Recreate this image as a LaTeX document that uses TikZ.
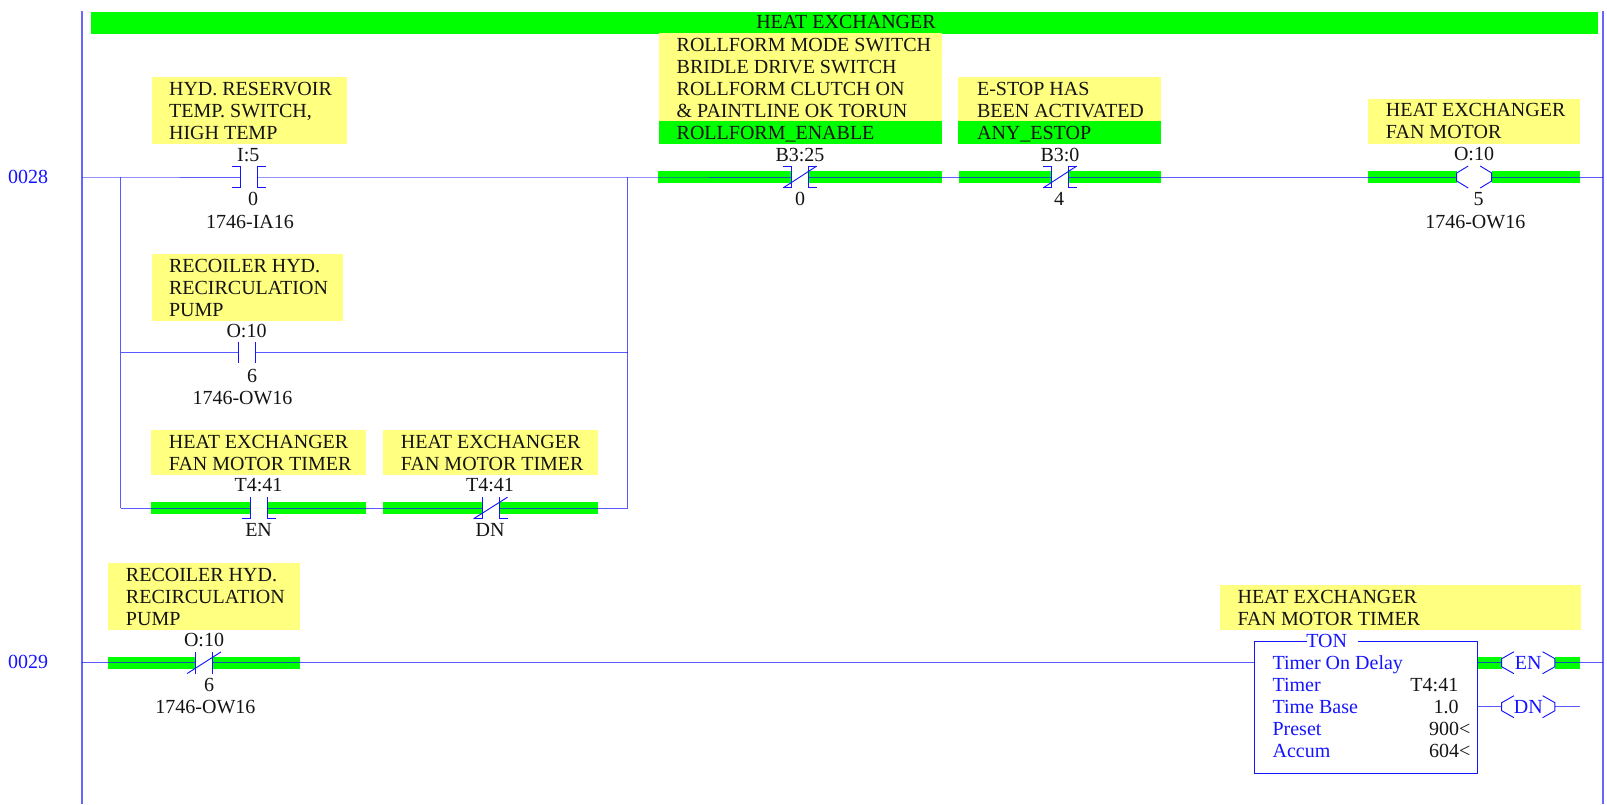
\documentclass[tikz,border=0pt]{standalone}
\usepackage{fontspec}
\setmainfont{Liberation Serif}
\definecolor{wireblue}{RGB}{20,20,255}
\definecolor{notey}{RGB}{255,255,128}
\definecolor{hl}{RGB}{0,255,0}
\definecolor{tagc}{RGB}{20,20,20}
\newcommand{\tfont}{\fontsize{15}{16.5}\selectfont}
\tikzset{
  wire/.style={draw=wireblue,line width=0.75pt,draw opacity=0.7},
  rail/.style={draw=wireblue,line width=1pt,draw opacity=0.65},
  sym/.style={draw=wireblue,line width=0.7pt},
  fillnote/.style={fill=notey,draw=none,inner sep=0pt,anchor=north west},
  fillhl/.style={fill=hl,draw=none,inner sep=0pt,anchor=north west},
  notetext/.style={inner sep=0pt,anchor=north west,align=left,font=\tfont,text=tagc},
  tag/.style={inner sep=0pt,anchor=base,font=\tfont,text=tagc},
  bluetext/.style={inner sep=0pt,anchor=base west,font=\tfont,text=wireblue},
  valtext/.style={inner sep=0pt,anchor=base east,font=\tfont,text=tagc},
  rungno/.style={inner sep=0pt,anchor=base,font=\tfont,text=wireblue},
}
\newcommand{\NoteBox}[8]{%
  \path (#2,#3) node[fillnote,minimum width={(#4-#2)*0.75pt},minimum height={(#5-#3)*0.75pt}] (#1) {};
  \path (#6,#7-6.8) node[notetext] (#1t) {\rule{0pt}{10pt}#8};
}
\newcommand{\HiBar}[4]{%
  \path (#2,#4-6) node[fillhl,minimum width={(#3-#2)*0.75pt},minimum height=9pt] (#1) {};
}
\newcommand{\Tag}[4]{\path (#2,#3+6.5) node[tag] (#1) {#4};}
\newcommand{\Bars}[4]{%
  \coordinate (#1-l) at (#2,#4);
  \coordinate (#1-r) at (#3,#4);
  \draw[sym] (#2,#4-10.8) -- (#2,#4+10.8);
  \draw[sym] (#3,#4-10.8) -- (#3,#4+10.8);
}
\newcommand{\BottomTicks}[3]{%
  \draw[sym] (#1-8.5,#3+10.8) -- (#1,#3+10.8);
  \draw[sym] (#2+8.5,#3+10.8) -- (#2,#3+10.8);
}
\newcommand{\TopTicks}[3]{%
  \draw[sym] (#1-8.5,#3-10.8) -- (#1,#3-10.8);
  \draw[sym] (#2+8.5,#3-10.8) -- (#2,#3-10.8);
}
\newcommand{\Diagonal}[3]{\draw[sym] (#1-8.5,#3+10.8) -- (#2+8.5,#3-10.8);}
\newcommand{\Coil}[5]{%
  \coordinate (#1-l) at (#2-#4,#5);
  \coordinate (#1-r) at (#2+#4,#5);
  \draw[sym] (#2-#3,#5-11) -- (#2-#4,#5-4) -- (#2-#4,#5+4) -- (#2-#3,#5+11);
  \draw[sym] (#2+#3,#5-11) -- (#2+#4,#5-4) -- (#2+#4,#5+4) -- (#2+#3,#5+11);
}
\begin{document}
\begin{tikzpicture}[x=0.75pt,y=-0.75pt]
\useasboundingbox (0,0) rectangle (1607,804);
% header
\path (91,11.5) node[fillhl,minimum width={1507*0.75pt},minimum height={22.5*0.75pt}] (hdr) {};
\Tag{hdrt}{846}{22.3}{HEAT EXCHANGER}
% highlight bars
\HiBar{b1a}{658}{791.8}{177}
\HiBar{b1b}{808}{942}{177}
\HiBar{b2a}{959}{1051.8}{177}
\HiBar{b2b}{1068}{1161}{177}
\HiBar{b3a}{1368}{1456.7}{177}
\HiBar{b3b}{1491.7}{1580}{177}
\HiBar{b4a}{151}{250}{508}
\HiBar{b4b}{267}{366}{508}
\HiBar{b5a}{383}{482}{508}
\HiBar{b5b}{499}{597.5}{508}
\HiBar{b6a}{108}{195.7}{663}
\HiBar{b6b}{212.5}{300}{663}
\HiBar{b7}{1477}{1501.7}{663}
\HiBar{b8}{1555}{1580}{663}
% rails
\coordinate (railLtop) at (82,11);
\coordinate (railLbot) at (82,804);
\coordinate (railRtop) at (1603,11);
\coordinate (railRbot) at (1603,804);
\draw[rail] (railLtop) -- (railLbot);
\draw[rail] (railRtop) -- (railRbot);
% notes
\NoteBox{n1}{151.5}{77}{346.5}{143.7}{168.8}{88.7}{HYD. RESERVOIR\\TEMP. SWITCH,\\HIGH TEMP}
\NoteBox{n2}{151.5}{254}{343}{321}{168.8}{265.5}{RECOILER HYD.\\RECIRCULATION\\PUMP}
\NoteBox{n3}{151}{430}{366}{475}{168.6}{441.5}{HEAT EXCHANGER\\FAN MOTOR TIMER}
\NoteBox{n4}{383}{430}{597.5}{475}{400.7}{441.5}{HEAT EXCHANGER\\FAN MOTOR TIMER}
\NoteBox{n5}{108}{563}{300}{629.7}{125.7}{574.3}{RECOILER HYD.\\RECIRCULATION\\PUMP}
\path (659,121) node[fillhl,minimum width={283*0.75pt},minimum height={23*0.75pt}] (n6g) {};
\path (958,121) node[fillhl,minimum width={203*0.75pt},minimum height={23*0.75pt}] (n7g) {};
\NoteBox{n6}{659}{33}{942}{121}{676.4}{44.3}{ROLLFORM MODE SWITCH\\BRIDLE DRIVE SWITCH\\ROLLFORM CLUTCH ON\\\& PAINTLINE OK TORUN\\ROLLFORM\_ENABLE}
\NoteBox{n7}{958}{77}{1161}{121}{976.8}{88.7}{E-STOP HAS\\BEEN ACTIVATED\\ANY\_ESTOP}
\NoteBox{n8}{1368}{99}{1580}{143.7}{1385.7}{110}{HEAT EXCHANGER\\FAN MOTOR}
\NoteBox{n9}{1220}{585}{1581}{629.7}{1237.3}{596.3}{HEAT EXCHANGER\\FAN MOTOR TIMER}
% symbols
\Bars{c1}{240.3}{257}{177}
\TopTicks{240.3}{257}{177}\BottomTicks{240.3}{257}{177}
\Bars{c2}{238.7}{255.7}{352.6}
\Bars{c3}{250}{267}{508}
\BottomTicks{250}{267}{508}
\Bars{c4}{482}{499}{508}
\BottomTicks{482}{499}{508}\Diagonal{482}{499}{508}
\Bars{c5}{791.8}{808}{177}
\TopTicks{791.8}{808}{177}\BottomTicks{791.8}{808}{177}\Diagonal{791.8}{808}{177}
\Bars{c6}{1051.8}{1068}{177}
\TopTicks{1051.8}{1068}{177}\BottomTicks{1051.8}{1068}{177}\Diagonal{1051.8}{1068}{177}
\Coil{c7}{1474.2}{6}{17.5}{177}
\Bars{c8}{195.7}{212.5}{662.7}
\Diagonal{195.7}{212.5}{662.7}
\Coil{c9}{1528.3}{14.3}{26.6}{662.7}
\Coil{c10}{1528.3}{14.3}{26.6}{706.7}
% junctions
\coordinate (r28L) at (82,177);
\coordinate (j1) at (120.5,177);
\coordinate (j2) at (627.5,177);
\coordinate (r28R) at (1603,177);
\coordinate (j3) at (120.5,352.6);
\coordinate (j4) at (627.5,352.6);
\coordinate (j5) at (120.5,508);
\coordinate (j6) at (627.5,508);
\coordinate (r29L) at (82,662.7);
\coordinate (r29R) at (1603,662.7);
\coordinate (dnend) at (1580,706.7);
% wires
\draw[wire] (r28L) -- (j1) -- (c1-l);
\draw[wire] (c1-r) -- (j2) -- (c5-l);
\draw[wire] (c5-r) -- (c6-l);
\draw[wire] (c6-r) -- (c7-l);
\draw[wire] (c7-r) -- (r28R);
\draw[wire] (j1) -- (j3) -- (j5);
\draw[wire] (j2) -- (j4) -- (j6);
\draw[wire] (j3) -- (c2-l);
\draw[wire] (c2-r) -- (j4);
\draw[wire] (j5) -- (c3-l);
\draw[wire] (c3-r) -- (c4-l);
\draw[wire] (c4-r) -- (j6);
\draw[wire] (r29L) -- (c8-l);
% timer block
\path (1254.3,640.7) node[inner sep=0pt,anchor=north west,draw=wireblue,line width=0.8pt,minimum width={222.4*0.75pt},minimum height={132*0.75pt}] (ton) {};
\path (1332,640.7) node[fill=white,inner sep=0pt,minimum width={51*0.75pt},minimum height=6pt] (tongap) {};
\path (1326.7,640.7+6.5) node[inner sep=0pt,anchor=base,font=\tfont,text=wireblue] (tont) {TON};
\coordinate (tonin) at (1254.3,662.7);
\coordinate (tonen) at (1476.7,662.7);
\coordinate (tondn) at (1476.7,706.7);
\draw[wire] (c8-r) -- (tonin);
\draw[wire] (tonen) -- (c9-l);
\draw[wire] (c9-r) -- (r29R);
\draw[wire] (tondn) -- (c10-l);
\draw[wire] (c10-r) -- (dnend);
\path (1272.3,662.7+6.5) node[bluetext] (l1) {Timer On Delay};
\path (1272.3,684.7+6.5) node[bluetext] (l2) {Timer};
\path (1272.3,706.7+6.5) node[bluetext] (l3) {Time Base};
\path (1272.3,728.7+6.5) node[bluetext] (l4) {Preset};
\path (1272.3,750.7+6.5) node[bluetext] (l5) {Accum};
\path (1458.5,684.7+6.5) node[valtext] (v2) {T4:41};
\path (1459,706.7+6.5) node[valtext] (v3) {1.0};
\path (1470.7,728.7+6.5) node[valtext] (v4) {900<};
\path (1470.7,750.7+6.5) node[valtext] (v5) {604<};
\path (1528.3,662.7+6.5) node[inner sep=0pt,anchor=base,font=\tfont,text=wireblue] (ent) {EN};
\path (1528.3,706.7+6.5) node[inner sep=0pt,anchor=base,font=\tfont,text=wireblue] (dnt) {DN};
% tags
\path (28,177+6.5) node[rungno] (r28) {0028};
\path (28,662+6.5) node[rungno] (r29) {0029};
\Tag{t1}{248.3}{155}{I:5}
\Tag{t2}{253}{199}{0}
\Tag{t3}{250}{221.7}{1746-IA16}
\Tag{t4}{246.5}{331}{O:10}
\Tag{t5}{252}{376}{6}
\Tag{t6}{242.5}{398}{1746-OW16}
\Tag{t7}{258.6}{485}{T4:41}
\Tag{t8}{258.6}{530}{EN}
\Tag{t9}{490}{485}{T4:41}
\Tag{t10}{490}{530}{DN}
\Tag{t11}{800}{155}{B3:25}
\Tag{t12}{800}{199}{0}
\Tag{t13}{1060}{155}{B3:0}
\Tag{t14}{1059}{199}{4}
\Tag{t15}{1474}{154.3}{O:10}
\Tag{t16}{1478.7}{198.7}{5}
\Tag{t17}{1475.3}{222}{1746-OW16}
\Tag{t18}{204}{640}{O:10}
\Tag{t19}{209}{684.7}{6}
\Tag{t20}{205.4}{706.7}{1746-OW16}
\end{tikzpicture}
\end{document}
